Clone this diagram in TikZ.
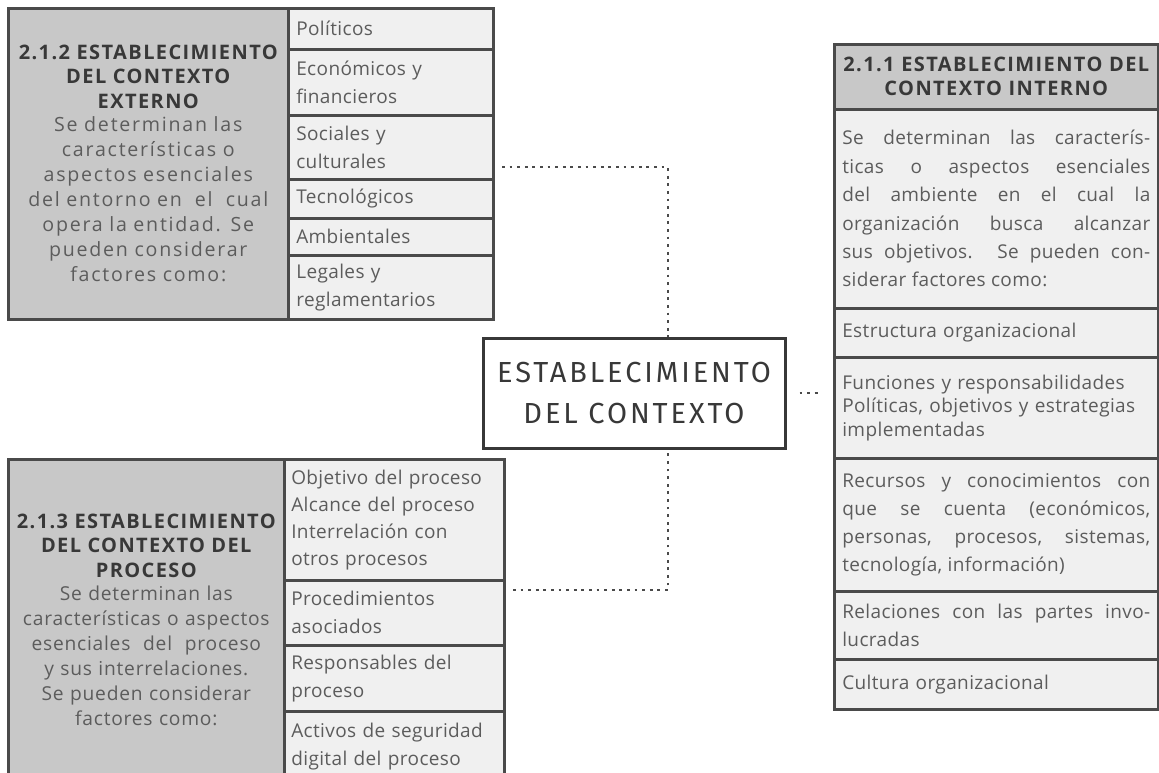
\documentclass[tikz,border=0pt]{standalone}
\usepackage{fontspec}
\setmainfont[LetterSpace=2]{Open Sans}
\newfontfamily\leadfont[LetterSpace=9]{Open Sans}
\newfontfamily\ctxfont[LetterSpace=10]{Fira Sans}
\newcommand\headfont{\fontsize{10}{12}\selectfont\bfseries\addfontfeature{LetterSpace=7}}
\usetikzlibrary{positioning,calc}
\definecolor{boxgray}{HTML}{C8C8C8}
\definecolor{cellgray}{HTML}{F0F0F0}
\definecolor{linegray}{HTML}{4A4A4A}
\definecolor{textgray}{HTML}{5C5C5C}
\definecolor{headgray}{HTML}{383838}

\begin{document}
\begin{tikzpicture}[x=0.5pt,y=-0.5pt,
  cell/.style={draw=linegray,line width=1.3pt,fill=cellgray,anchor=north west,inner xsep=4pt,inner ysep=0pt,
    align=left,text=textgray,font=\fontsize{9.5}{14}\selectfont},
  lead/.style={cell,fill=boxgray,align=center,inner xsep=1pt,font=\leadfont\fontsize{9.8}{12.5}\selectfont},
  head/.style={font=\headfont,text=headgray},
  link/.style={draw=linegray,line width=1.4pt,dash pattern=on 1.4pt off 2.4pt}]
\useasboundingbox (0,0) rectangle (1159,772);
\clip (0,0) rectangle (1159,772);
\node[lead,text width=138pt,minimum height=155.5pt] (ext) at (7,7)
  {{\headfont\color{headgray}2.1.2 ESTABLECIMIENTO\\DEL CONTEXTO\\EXTERNO}\\[-1pt]
   Se determinan las\\características o\\aspectos esenciales\\del entorno en \ el \ cual\\opera la entidad. Se\\pueden considerar\\factores como:};
\node[cell,text width=94.5pt,minimum height=20.5pt] (pol) at (287,7) {Políticos};
\node[cell,text width=94.5pt,minimum height=33pt] (eco) at (287,48) {Económicos y\\financieros};
\node[cell,text width=94.5pt,minimum height=32pt] (soc) at (287,114) {Sociales y\\culturales};
\node[cell,text width=94.5pt,minimum height=19.5pt] (tec) at (287,178) {Tecnológicos};
\node[cell,text width=94.5pt,minimum height=18.5pt] (amb) at (287,217) {Ambientales};
\node[cell,text width=94.5pt,minimum height=32pt] (leg) at (287,254) {Legales y\\reglamentarios};

\node[lead,text width=136pt,minimum height=161pt,font=\leadfont\addfontfeature{LetterSpace=4}\fontsize{9.6}{12.5}\selectfont] (proc) at (7,458)
  {{\headfont\color{headgray}2.1.3 ESTABLECIMIENTO\\DEL CONTEXTO DEL\\PROCESO}\\[-1pt]
   Se determinan las\\características o aspectos\\esenciales \ del \ proceso\\y sus interrelaciones.\\Se pueden considerar\\factores como:};
\node[cell,text width=103pt,inner xsep=3.5pt,minimum height=60.5pt,font=\fontsize{9.5}{13.5}\selectfont] (obj) at (283,458)
  {Objetivo del proceso\\Alcance del proceso\\Interrelación con\\otros procesos};
\node[cell,text width=103pt,inner xsep=3.5pt,minimum height=32.5pt] (pro) at (283,579) {Procedimientos\\asociados};
\node[cell,text width=103pt,inner xsep=3.5pt,minimum height=33pt] (res) at (283,644) {Responsables del\\proceso};
\node[cell,text width=103pt,inner xsep=3.5pt,minimum height=35pt] (act) at (283,710) {Activos de seguridad\\digital del proceso};

\node[lead,head,text width=160pt,minimum height=32.5pt] (int) at (833,43)
  {2.1.1 ESTABLECIMIENTO DEL\\CONTEXTO INTERNO};
\node[cell,align=justify,text width=154pt,minimum height=99.5pt,font=\fontsize{9.5}{14.2}\selectfont] (des) at (833,108)
  {Se determinan las caracterís-\linebreak ticas o aspectos esenciales\linebreak del ambiente en el cual la\linebreak
   organización busca alcanzar\linebreak sus objetivos. Se pueden con-\linebreak siderar factores como:};
\node[cell,text width=154pt,minimum height=24.5pt] (est) at (833,307) {Estructura organizacional};
\node[cell,text width=154pt,minimum height=50.5pt,font=\fontsize{9.5}{11.8}\selectfont] (fun) at (833,356)
  {Funciones y responsabilidades\\Políticas, objetivos y estrategias\\implementadas};
\node[cell,align=justify,text width=154pt,minimum height=66.5pt] (rec) at (833,457)
  {Recursos y conocimientos con\linebreak que se cuenta (económicos,\linebreak personas, procesos, sistemas,\linebreak tecnología, información)};
\node[cell,align=justify,text width=154pt,minimum height=34pt] (rel) at (833,590)
  {Relaciones con las partes invo-\linebreak lucradas};
\node[cell,text width=154pt,minimum height=25pt] (cul) at (833,658) {Cultura organizacional};

\node[draw=headgray,line width=1.5pt,fill=white,minimum width=151pt,minimum height=55pt,align=center,
  font=\ctxfont\fontsize{14.5}{20.5}\selectfont,text=headgray] (ctx) at (634,393)
  {ESTABLECIMIENTO\\DEL CONTEXTO};

\coordinate (ext-dot) at (502,167);
\coordinate (ext-knee) at (668,167);
\coordinate (proc-dot) at (513,590);
\coordinate (proc-knee) at (668,590);
\draw[link] (ext-dot) -- (ext-knee) -- (ext-knee |- ctx.north);
\draw[link] (proc-dot) -- (proc-knee) -- (proc-knee |- ctx.south);
\draw[link] ([xshift=6.5pt]ctx.east) -- ([xshift=-5.5pt]ctx.east -| fun.west);
\end{tikzpicture}
\end{document}
